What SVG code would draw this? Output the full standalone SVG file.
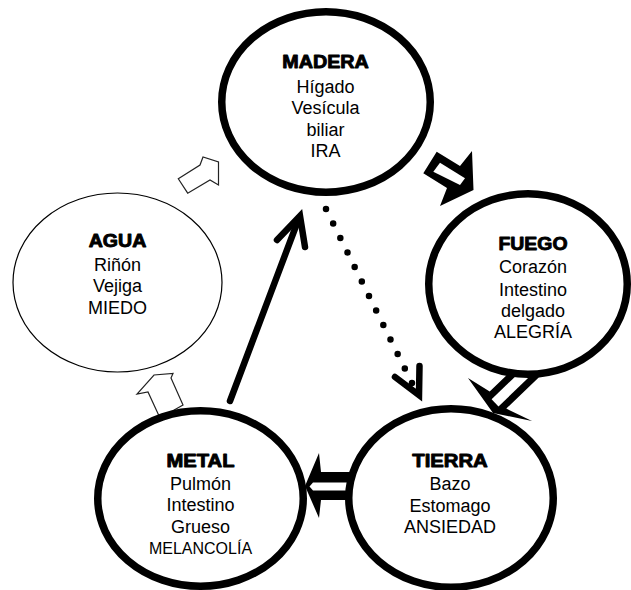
<svg xmlns="http://www.w3.org/2000/svg" width="631" height="590" viewBox="0 0 631 590">
<style>
.node{fill:#fff;stroke:#000;stroke-width:7.5}
.thin{fill:#fff;stroke:#000;stroke-width:1.2}
text{font-family:"Liberation Sans",Arial,sans-serif;text-anchor:middle;fill:#000}
.t{font-size:18px;font-weight:bold;stroke:#000;stroke-width:0.9;stroke-linejoin:round}
.b{font-size:18px}
.s{font-size:16px}
.hollow{fill:#fff;stroke:#222;stroke-width:1.2;stroke-linejoin:miter}
.blk{fill:#000}
.wht{fill:#fff}
.line{fill:none;stroke:#000;stroke-width:6.5;stroke-linecap:round;stroke-linejoin:miter}
.dots{fill:none;stroke:#000;stroke-width:6.5;stroke-linecap:round;stroke-dasharray:0 16.17}
</style>
<rect width="631" height="590" fill="#fff"/>
<g id="connectors">
  <!-- AGUA -> MADERA hollow arrow -->
  <polygon class="hollow" points="178.3,178.8 200,165 203,157 218.5,162 218.5,185 210,180 187.7,193.2"/>
  <!-- METAL -> AGUA hollow arrow -->
  <polygon class="hollow" points="160,418 148,392 137,394 154,375 173,373.5 171,378 183,405"/>
  <!-- MADERA -> FUEGO outlined arrow -->
  <polygon class="blk" points="436.7,151.7 460,166 472,151 473.5,190 440,206 447,188 423.3,173.3"/>
  <polygon class="wht" points="433.3,171.7 440,162.7 465,178.3 460,185"/>
  <!-- FUEGO -> TIERRA outlined arrow -->
  <polygon class="blk" points="522.1,360.4 489.7,391.4 468,378 493,413 532,421 506.3,408.6 538.7,377.6"/>
  <polygon class="wht" points="498.5,406.4 491.6,399.2 526.9,365.4 533.8,372.6"/>
  <!-- TIERRA -> METAL outlined arrow -->
  <polygon class="blk" points="352,472 321,472 319,453 305,486 319,518 321,500 352,500"/>
  <polygon class="wht" points="352,482.5 313,482.5 309.5,486.5 313,490.5 352,490.5"/>
  <!-- METAL -> MADERA solid arrow -->
  <path class="line" d="M230,401 L299,218"/>
  <path class="line" d="M277,240 L300,216 L305,247"/>
  <!-- MADERA -> TIERRA dotted arrow -->
  <path class="dots" d="M326,209 L412,383"/>
  <path class="line" d="M395,377 L419,395 L419.5,366"/>
</g>
<g id="madera">
  <ellipse class="node" cx="326" cy="102" rx="104.25" ry="90.25"/>
  <text class="t" x="325.5" y="68" textLength="86.5" lengthAdjust="spacingAndGlyphs">MADERA</text>
  <text class="b" x="325.5" y="92.5">Hígado</text>
  <text class="b" x="325.5" y="114">Vesícula</text>
  <text class="b" x="325.5" y="135.5">biliar</text>
  <text class="b" x="325.5" y="157">IRA</text>
</g>
<g id="fuego">
  <ellipse class="node" cx="528" cy="284" rx="99.25" ry="90.25"/>
  <text class="t" x="533" y="250" textLength="69" lengthAdjust="spacingAndGlyphs">FUEGO</text>
  <text class="b" x="533" y="273">Corazón</text>
  <text class="b" x="533" y="296">Intestino</text>
  <text class="b" x="533" y="316.5">delgado</text>
  <text class="b" x="533" y="338">ALEGRÍA</text>
</g>
<g id="tierra">
  <ellipse class="node" cx="451" cy="498" rx="102.25" ry="89.25"/>
  <text class="t" x="450" y="467" textLength="75.5" lengthAdjust="spacingAndGlyphs">TIERRA</text>
  <text class="b" x="450" y="490">Bazo</text>
  <text class="b" x="450" y="511.5">Estomago</text>
  <text class="b" x="450" y="532.5">ANSIEDAD</text>
</g>
<g id="metal">
  <ellipse class="node" cx="200.5" cy="498.5" rx="102.75" ry="87.75"/>
  <text class="t" x="200.5" y="467" textLength="68" lengthAdjust="spacingAndGlyphs">METAL</text>
  <text class="b" x="200.5" y="490">Pulmón</text>
  <text class="b" x="200.5" y="511">Intestino</text>
  <text class="b" x="200.5" y="532.5">Grueso</text>
  <text class="s" x="200.5" y="554">MELANCOLÍA</text>
</g>
<g id="agua">
  <ellipse class="thin" cx="117.5" cy="282.5" rx="104.5" ry="89.5"/>
  <text class="t" x="117.5" y="247" textLength="57.5" lengthAdjust="spacingAndGlyphs">AGUA</text>
  <text class="b" x="117.5" y="271">Riñón</text>
  <text class="b" x="117.5" y="292">Vejiga</text>
  <text class="b" x="117.5" y="313.5">MIEDO</text>
</g>
</svg>
